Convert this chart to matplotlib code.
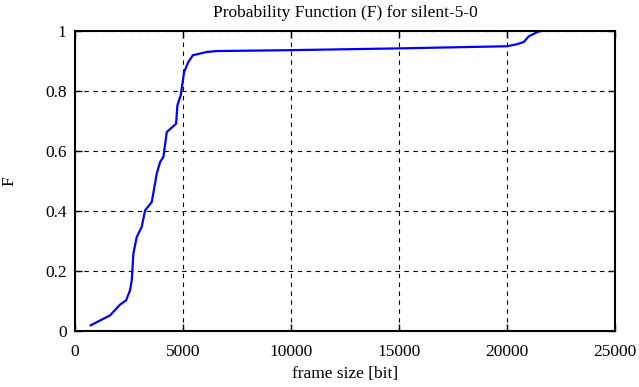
import numpy as np
from matplotlib import pyplot as plt

plt.rcParams['font.family'] = ['Liberation Serif', 'DejaVu Serif']

# curve: frame size [bit] vs F
frame_size = [727, 1622, 2085, 2363, 2548, 2627, 2703, 2857, 3089, 3244, 3553,
              3785, 3939, 4092, 4248, 4680, 4740, 4896, 5051, 5250, 5455, 6103,
              6567, 9963, 15060, 20000, 20470, 20775, 21007, 21424, 21600]
F = [0.019, 0.052, 0.088, 0.102, 0.136, 0.169, 0.258, 0.313, 0.347, 0.402, 0.43,
     0.525, 0.563, 0.58, 0.663, 0.691, 0.752, 0.786, 0.863, 0.897, 0.919, 0.93,
     0.933, 0.936, 0.942, 0.949, 0.956, 0.963, 0.982, 0.997, 1.0]

xticks = [0, 5000, 10000, 15000, 20000, 25000]
yticks = [0, 0.2, 0.4, 0.6, 0.8, 1]
ylabels = ['0', '0.2', '0.4', '0.6', '0.8', '1']

fig = plt.figure(figsize=(6.39, 3.87), dpi=100)
ax = fig.add_axes([0.1174, 0.1447, 0.845, 0.7753])

ax.plot(frame_size, F, color='#0000ff', lw=1.6)

ax.set_xlim(0, 25000)
ax.set_ylim(0, 1)
ax.set_xticks(xticks)
ax.set_xticklabels([str(t) for t in xticks])
ax.set_yticks(yticks)
ax.set_yticklabels(ylabels)
ax.grid(True, color='black', ls=(0, (4, 4)), lw=0.8)
ax.tick_params(direction='in', top=True, right=True, length=5, width=1,
               labelsize=12.5)
ax.tick_params(axis='x', pad=9)
ax.tick_params(axis='y', pad=6)
for s in ax.spines.values():
    s.set_linewidth(1.5)

ax.set_xlabel('frame size [bit]', fontsize=12.5, labelpad=5)
ax.set_ylabel('F', fontsize=12.5, labelpad=20)
ax.set_title('Probability Function (F) for silent-5-0', fontsize=12.5, pad=10)

plt.savefig('out.png', dpi=100)
